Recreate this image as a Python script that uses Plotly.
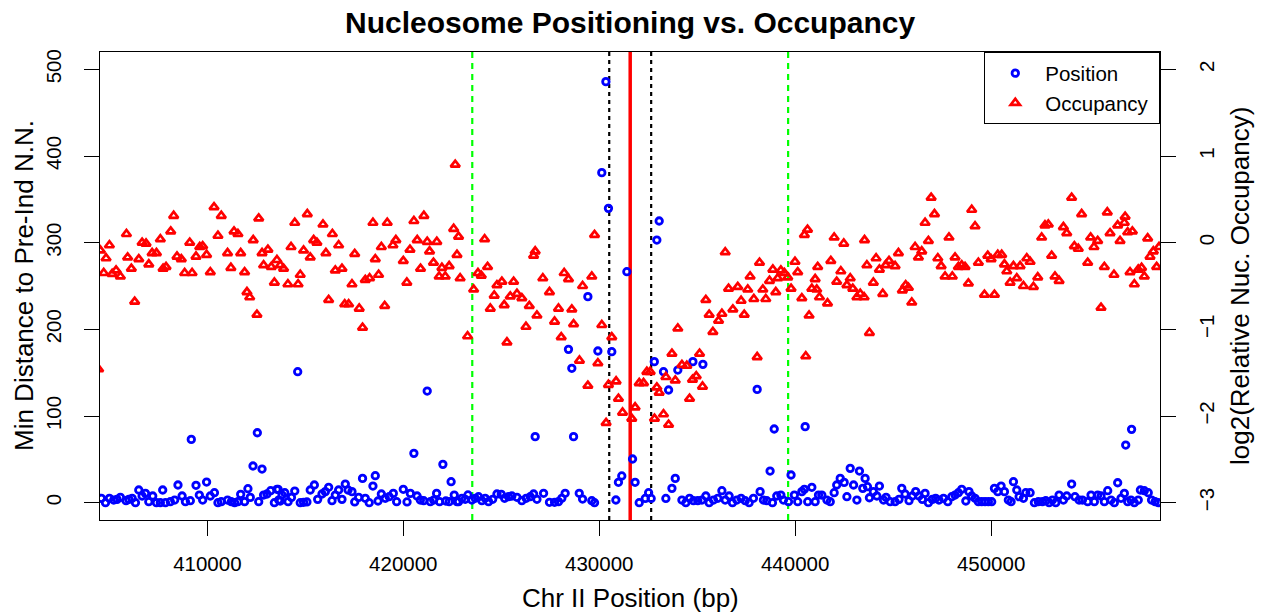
import plotly.graph_objects as go

# Minimum distance of each nucleosome to its pre-induction nearest neighbour (bp)
pos_x = [
    404590, 404800, 405000, 405220, 405390, 405560, 405850, 405990, 406160, 406330,
    406500, 406670, 406840, 407010, 407210, 407400, 407600, 407720, 407860, 408110,
    408330, 408500, 408710, 408880, 409130, 409180, 409420, 409590, 409760, 409960,
    410150, 410360, 410540, 410710, 411030, 411220, 411390, 411560, 411700, 411900,
    412070, 412190, 412330, 412550, 412620, 412790, 412870, 413040, 413230, 413420,
    413550, 413640,
    413610, 413810, 413950, 413720, 414120, 414290, 414460, 414610, 414740, 414910,
    415080, 415250, 415460, 415630, 415850, 416020, 416190, 416360, 416530, 416700,
    416870, 417040, 417180, 417380, 417520, 417720, 417920, 418060, 418260, 418450,
    418570, 418710, 418880, 419080, 419280, 419490, 419660, 420000, 420190, 420360,
    420540, 420700, 420870, 421040, 421220, 421380, 421550, 421700, 421850, 422020,
    422170, 422340, 422440, 422600, 422740,
    422820, 422990, 423160, 423300, 423500, 423670, 423840, 424010, 424180, 424350,
    424560, 424780, 425000, 425170, 425370, 425540, 425800, 426050, 426270, 426480,
    426650, 426820, 427160, 427460, 427720, 427920, 428090, 428260, 428980, 429150,
    429620, 429760,
    430340, 430130, 430470, 431410, 429420, 428430, 429930, 430640, 428600, 426730,
    428690, 431700, 431150, 430980, 431830, 432040, 430850,
    433060, 432940, 432810, 433280, 433540, 434010, 434780, 435290, 438060, 438930,
    440510, 438720, 439790, 433880, 433710, 432520, 432350, 432650, 433400,
    434220, 434420, 434610, 434810, 435030, 435240, 435440, 435610, 435830, 436050,
    436260, 436430, 436630, 436800, 437020, 437240, 437450, 437650, 437870, 438210,
    438380, 438550, 438840, 439060, 439270, 439400, 439660, 439960, 440130, 440340,
    440470, 440640, 440850, 441020, 441190,
    441360, 441620, 441790, 441990, 442120, 442300, 442500, 442640, 442810, 442980,
    443150, 443280, 443450, 443570, 443690, 443790, 443990, 444170, 444300, 444510,
    444640, 444850, 445100, 445300, 445440, 445610, 445810, 445980, 446150, 446320,
    446490, 446630, 446800, 447000, 447170, 447340, 447570, 447790, 447990, 448160,
    448330, 448500, 448710, 448870, 449010, 449180, 449350, 449520, 449690, 449860,
    450030, 450170, 450340,
    457170, 456870, 450510, 450680, 450880, 451020, 451140, 451310, 451430, 451650,
    451770, 451990, 452210, 452410, 452620, 452790, 452960, 453130, 453300, 453470,
    453690, 453860, 454110, 454280, 454490, 454660, 454930, 455100, 455270, 455440,
    455610, 455780, 455950, 456120, 456290, 456460, 456630, 456800, 456970, 457140,
    457310, 457510, 457620, 457820, 458020, 458190, 458370, 458540,
]
pos_y = [
    5.0, 0.0, 5.0, 3.0, 3.8, 6.1, 2.3, 3.8, 5.0, 0.0,
    14.6, 7.7, 10.7, 1.1, 7.7, 0.0, 0.0, 14.6, 0.0, 1.1,
    3.0, 20.4, 7.7, 1.1, 2.3, 73.0, 20.0, 8.8, 3.0, 23.8,
    7.7, 11.5, 0.0, 1.1, 3.0, 1.1, 0.0, 1.1, 9.6, 1.1,
    16.1, 6.1, 42.3, 80.7, 1.1, 38.8, 8.8, 10.0, 13.8, 0.0,
    15.4, 3.0,
    15.4, 8.8, 11.5, 1.9, 1.1, 6.1, 13.4, 151.1, 0.0, 0.4,
    0.8, 14.6, 20.4, 3.8, 10.0, 12.7, 17.7, 2.3, 8.8, 14.6,
    3.8, 21.5, 14.6, 12.7, 0.8, 6.1, 28.0, 5.0, 0.0, 19.2,
    31.1, 1.9, 10.0, 5.0, 6.9, 10.7, 1.1, 15.4, 0.8, 10.7,
    56.9, 7.7, 3.0, 2.3, 128.8, 1.1, 3.0, 10.7, 1.1, 44.2,
    1.9, 1.1, 24.2, 8.8, 1.1,
    1.2, 5.0, 3.9, 8.9, 3.1, 5.0, 6.9, 2.3, 5.0, 1.2,
    3.9, 10.0, 9.6, 5.0, 6.9, 7.7, 6.2, 2.3, 5.0, 6.9,
    10.0, 3.9, 10.8, 0.4, 0.4, 1.2, 5.0, 10.8, 10.8, 4.2,
    2.3, 0.0,
    485.8, 380.8, 339.6, 266.5, 237.7, 176.9, 175.0, 174.2, 155.0, 76.2,
    76.2, 50.4, 30.8, 23.5, 23.5, 0.0, 3.1,
    325.0, 303.0, 162.7, 151.1, 130.0, 153.0, 162.7, 159.6, 130.7, 85.0,
    87.7, 36.5, 31.9, 28.0, 16.5, 11.5, 4.9, 4.9, 4.9,
    3.0, 0.0, 5.0, 2.3, 2.3, 3.0, 7.7, 0.0, 3.0, 5.0,
    13.8, 3.0, 7.7, 0.0, 3.0, 5.0, 2.3, 0.0, 5.0, 12.7,
    3.0, 2.3, 0.0, 7.7, 8.8, 3.0, 1.1, 8.8, 1.1, 12.7,
    15.4, 1.1, 17.7, 1.1, 8.8,
    8.8, 3.0, 1.1, 11.5, 20.4, 28.0, 23.4, 6.9, 39.6, 20.4,
    3.0, 36.5, 16.5, 28.0, 18.4, 5.7, 12.7, 7.7, 19.2, 3.0,
    6.1, 1.1, 1.1, 3.8, 16.5, 10.0, 2.3, 7.7, 12.7, 7.7,
    3.8, 10.7, 0.0, 3.8, 5.0, 3.0, 5.0, 1.1, 6.9, 8.8,
    11.5, 15.4, 1.9, 12.7, 7.7, 5.0, 1.1, 1.1, 1.1, 1.1,
    1.1, 16.5, 12.7,
    84.6, 66.5, 19.2, 12.7, 3.0, 1.1, 24.2, 14.6, 6.9, 5.0,
    11.5, 11.5, 0.0, 1.1, 1.1, 2.3, 0.0, 3.0, 0.0, 8.8,
    3.0, 7.7, 21.5, 6.9, 3.0, 3.0, 1.1, 8.8, 1.1, 8.8,
    7.7, 1.1, 13.8, 3.0, 0.0, 23.0, 5.0, 10.7, 1.1, 3.0,
    0.0, 3.0, 14.6, 13.8, 11.5, 3.0, 1.1, 0.0,
]

# log2 relative nucleosome occupancy
occ_x = [
    404450, 404541, 405000, 404830, 404710, 405140, 405340, 405560, 405870, 405930,
    406120, 406290, 406500, 406670, 406870, 407010, 407180, 407400, 407600, 407740,
    407890, 408130, 408280, 408450, 408670, 408840, 409100, 409220, 409420, 409610,
    409760, 409960, 410150, 410340, 410540, 410710, 411030, 411200, 411360, 411560,
    411700, 411900, 412020, 412160, 412340, 412530, 412620, 412790, 412870, 413090,
    413260, 413420, 413550,
    413720, 413890, 414110, 414270, 414460, 414630, 414740, 414910, 415100, 415250,
    415425, 415590, 415900, 416050, 416190, 416380, 416530, 416700, 416870, 417010,
    417210, 417380, 417520, 417750, 417920, 418060, 418280, 418450, 418570, 418740,
    418880, 419050, 419180, 419470, 419620, 420000, 420180, 420340, 420540, 420710,
    420880, 421050, 421220, 421340, 421540, 421710, 421830, 421970, 422140, 422340,
    422570, 422740, 422820, 422900, 422650,
    423280, 423590, 423810, 423980, 424150, 424300, 424440, 424640, 424780, 425030,
    425150, 425290, 425460, 425630, 425800, 426050, 426260, 426430, 426650, 426730,
    426820, 427120, 427460, 427720, 427920, 428060, 428210, 428430, 428600, 428690,
    428990, 429150, 429420, 429620, 429760, 429930, 430130, 430350, 430470, 430640,
    430860, 430980, 431190, 431660, 431830, 432040,
    432260, 432430, 432600, 432820, 432940, 433060, 433280, 433400, 433540, 433710,
    433880, 434010, 434220, 434470, 434610, 434760, 434950, 435120, 435270, 435440,
    435610, 435800, 436090, 436260, 436430, 436600, 436820, 437070, 437240, 437400,
    437580, 437700, 437890, 438060, 438180, 438350, 438500, 438690, 438860, 439010,
    439110, 439270, 439450, 439620, 439790, 439990, 440130, 440340, 440470, 440540,
    440630, 440710, 440850, 441020, 441150, 441240,
    441100, 441650, 441820, 441990, 442120, 442330, 442480, 442640, 442810, 442940,
    443150, 443320, 443540, 443520, 443660, 443790, 443990, 444130, 444300, 444470,
    444620, 444790, 445100, 445270, 445470, 445640, 445780, 445950, 446120, 446290,
    446460, 446630, 446800, 446940, 447110, 447280, 447450, 447650, 447850, 448020,
    448160, 448330, 448500, 448670, 448840, 449010, 449180, 449350, 449660, 449830,
    450000, 450170, 450340,
    450540, 450680, 450800, 450970, 451140, 451310, 451480, 451650, 451820, 451990,
    452160, 452380, 452580, 452750, 452920, 453090, 453260, 453470, 453690, 453860,
    454110, 454250, 454450, 454620, 454930, 455080, 455250, 455440, 455610, 455780,
    455930, 456070, 456270, 456460, 456580, 456840, 456800, 456970, 457090, 457210,
    457310, 457510, 457680, 457820, 457990, 458110, 458280, 458450, 458570,
]
occ_y = [
    -1.46, -0.09, -0.03, -0.18, -0.35, -0.36, -0.32, -0.39, 0.10, -0.17,
    -0.30, -0.68, -0.19, 0.00, -0.01, -0.25, -0.12, -0.12, 0.04, -0.30,
    -0.28, 0.13, 0.31, -0.16, -0.19, -0.35, 0.00, -0.35, -0.16, -0.05,
    -0.04, -0.14, -0.34, 0.41, 0.08, 0.31, -0.12, -0.29, 0.13, 0.10,
    -0.12, -0.34, -0.57, -0.63, 0.03, -0.83, 0.28, -0.12, -0.26, -0.08,
    -0.28, -0.46, -0.20,
    -0.26, -0.30, -0.48, -0.05, 0.23, -0.48, -0.37, -0.09, 0.33, -0.17,
    0.03, 0.00, 0.21, -0.12, -0.66, 0.10, -0.32, -0.03, -0.30, -0.71,
    -0.71, -0.48, -0.13, -0.76, -0.98, -0.43, -0.41, 0.23, -0.19, -0.37,
    -0.05, -0.73, 0.23, -0.03, 0.03, -0.21, -0.46, -0.08, 0.25, 0.03,
    -0.30, 0.31, 0.01, -0.10, -0.23, 0.01, -0.39, -0.29, -0.39, -0.27,
    0.16, -0.14, 0.07, -0.41, 0.90,
    -1.08, -0.54, -0.35, -0.38, 0.04, -0.28, -0.76, -0.61, -0.49, -0.45,
    -0.72, -1.15, -0.62, -0.45, -0.59, -0.64, -0.97, -0.73, -0.15, -0.10,
    -0.84, -0.41, -0.57, -0.91, -0.76, -1.09, -0.35, -0.42, -0.77, -0.94,
    -1.36, -0.50, -1.65, -0.39, 0.09, -1.39, -0.95, -2.08, -1.64, -1.09,
    -1.60, -1.80, -1.96, -2.03, -1.90, -1.62,
    -1.62, -1.49, -1.49, -2.03, -1.67, -1.73, -1.98, -1.55, -2.10, -1.28,
    -1.59, -0.99, -1.41, -1.42, -1.80, -1.58, -1.54, -1.28, -1.66, -0.66,
    -0.83, -1.03, -0.90, -0.82, -0.11, -0.53, -0.77, -0.51, -0.67, -0.83,
    -0.54, -0.39, -0.65, -1.32, -0.23, -0.54, -0.65, -0.44, -0.31, -0.57,
    -0.41, -0.32, -0.35, -0.40, -0.53, -0.22, -0.34, -0.64, 0.09, -1.31,
    0.15, -0.84, -0.53, -0.42, -0.28, -0.63,
    -0.54, -0.70, -0.21, 0.06, -0.45, -0.33, -0.01, -0.49, -0.41, -0.53,
    -0.63, -0.59, 0.03, -0.63, -0.26, -1.04, -0.46, -0.18, -0.31, -0.59,
    -0.26, -0.21, -0.27, -0.12, -0.55, -0.49, -0.52, -0.69, -0.05, -0.17,
    -0.10, 0.23, 0.02, 0.52, 0.33, -0.18, -0.27, -0.39, 0.06, -0.39,
    -0.17, -0.28, -0.26, -0.28, -0.47, 0.38, 0.19, -0.23, -0.60, -0.15,
    -0.19, -0.60, -0.14,
    -0.14, -0.25, -0.33, -0.46, -0.27, -0.41, -0.27, -0.50, -0.18, -0.22,
    -0.51, -0.40, 0.06, 0.20, 0.21, -0.15, -0.39, -0.44, 0.18, 0.11,
    0.52, -0.04, -0.07, 0.33, -0.23, 0.06, -0.05, 0.02, -0.75, -0.28,
    0.35, 0.11, -0.37, 0.20, 0.02, 0.30, 0.23, 0.12, -0.34, 0.13,
    -0.48, -0.31, -0.29, -0.39, 0.05, -0.16, -0.10, -0.28, -0.05,
]

# Reference positions along the chromosome (bp)
gene_center = [431580]
inner_bounds = [430510, 432650]
outer_bounds = [423520, 439640]

x_ticks = [410000, 420000, 430000, 440000, 450000]
left_ticks = [0, 100, 200, 300, 400, 500]
right_ticks = [-3, -2, -1, 0, 1, 2]

FONT = "Liberation Sans, Arial, sans-serif"

fig = go.Figure()

fig.add_trace(go.Scatter(
    x=pos_x, y=pos_y, mode="markers", name="Position",
    marker=dict(symbol="circle-open", size=6.5, color="#0000FF",
                line=dict(width=2.8, color="#0000FF")),
))
fig.add_trace(go.Scatter(
    x=occ_x, y=occ_y, mode="markers", name="Occupancy\u00a0", yaxis="y2",
    marker=dict(symbol="triangle-up-open", size=8, color="#FF0000",
                line=dict(width=2.7, color="#FF0000")),
))

shapes = []
for xv in outer_bounds:
    shapes.append(dict(type="line", xref="x", yref="paper", x0=xv, x1=xv, y0=0, y1=1,
                       line=dict(color="#00FF00", width=2.2, dash="6px,5px"), layer="below"))
for xv in inner_bounds:
    shapes.append(dict(type="line", xref="x", yref="paper", x0=xv, x1=xv, y0=0, y1=1,
                       line=dict(color="black", width=2.2, dash="4px,4px"), layer="below"))
for xv in gene_center:
    shapes.append(dict(type="line", xref="x", yref="paper", x0=xv, x1=xv, y0=0, y1=1,
                       line=dict(color="#FF0000", width=3.5), layer="below"))

axis_common = dict(
    showline=True, linecolor="black", linewidth=1.3,
    ticks="outside", ticklen=15, tickwidth=1.3, tickcolor="black",
    showgrid=False, zeroline=False,
    tickfont=dict(family=FONT, size=20.5, color="black"),
)

fig.update_layout(
    width=1263, height=616,
    margin=dict(l=100, r=103, t=52, b=96),
    paper_bgcolor="white", plot_bgcolor="white",
    font=dict(family=FONT, color="black"),
    shapes=shapes,
    showlegend=True,
    legend=dict(x=1, xanchor="right", y=1, yanchor="top",
                bordercolor="black", borderwidth=1.3, bgcolor="white",
                font=dict(family=FONT, size=20.5, color="black"),
                itemwidth=50, tracegroupgap=0),
    xaxis=dict(range=[404520, 458620], tickvals=x_ticks, tickformat="d",
               mirror=True, ticklabelstandoff=10, **axis_common),
    yaxis=dict(range=[-20, 520], tickvals=left_ticks, tickangle=-90,
               mirror=True, ticklabelstandoff=15, **axis_common),
    yaxis2=dict(range=[-3.2, 2.2], tickvals=right_ticks, tickangle=-90,
                overlaying="y", side="right", ticklabelstandoff=13, **axis_common),
    annotations=[
        dict(text="<b>Nucleosome Positioning vs. Occupancy</b>", xref="paper", yref="paper",
             x=0.5, y=1, yshift=30, xanchor="center", yanchor="middle", showarrow=False,
             font=dict(family=FONT, size=30, color="black")),
        dict(text="Chr II Position (bp)", xref="paper", yref="paper",
             x=0.5, y=0, yshift=-78, xanchor="center", yanchor="middle", showarrow=False,
             font=dict(family=FONT, size=26, color="black")),
        dict(text="Min Distance to Pre-Ind N.N.", xref="paper", yref="paper",
             x=0, y=0.5, xshift=-76, xanchor="center", yanchor="middle", showarrow=False,
             textangle=-90, font=dict(family=FONT, size=26, color="black")),
        dict(text="log2(Relative Nuc. Occupancy)", xref="paper", yref="paper",
             x=1, y=0.5, xshift=80, xanchor="center", yanchor="middle", showarrow=False,
             textangle=-90, font=dict(family=FONT, size=26, color="black")),
    ],
)

fig.write_html("out.html")
